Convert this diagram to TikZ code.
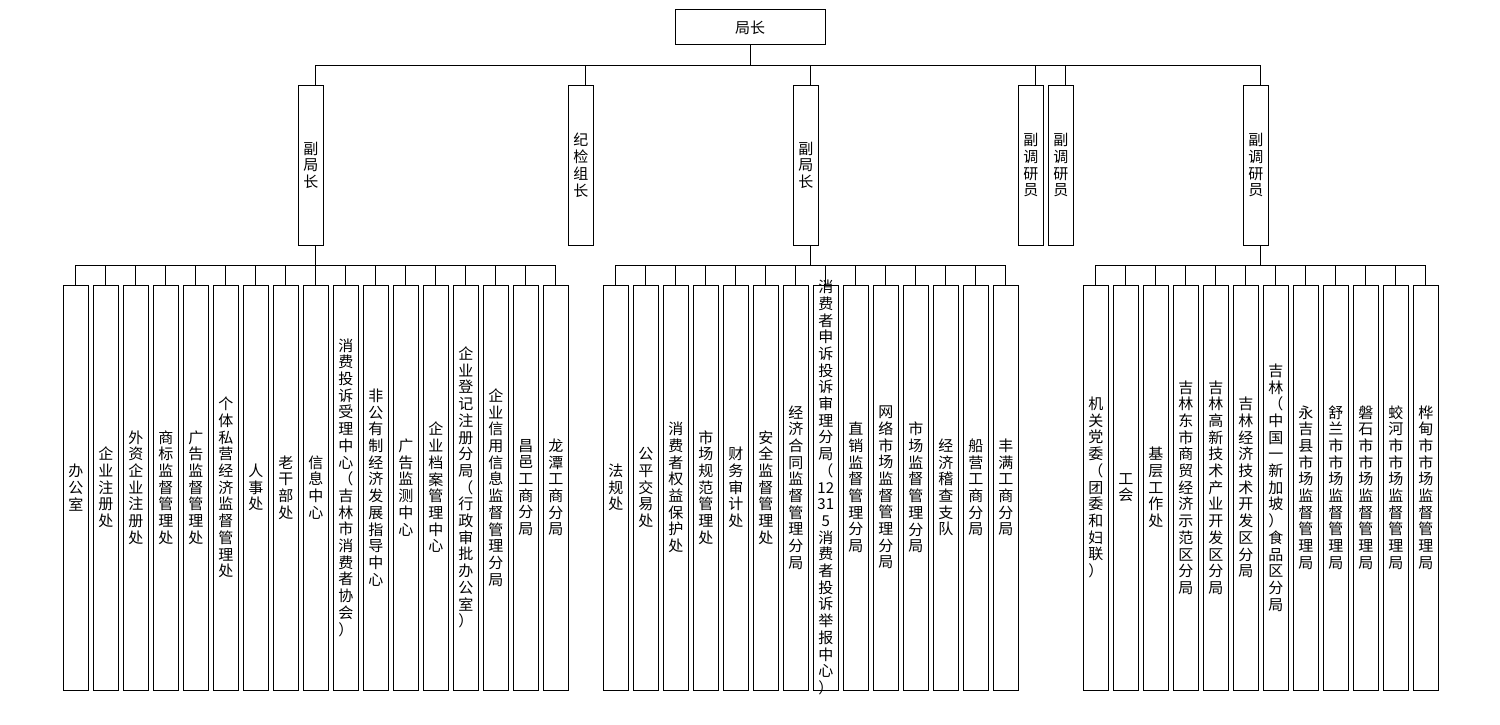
\documentclass[tikz,border=0pt]{standalone}
\usepackage{fontspec}
\newfontfamily\cjk{Noto Sans CJK SC}
\def\vtstop{\relax}
\def\vtstopmacro{\vtstop}
\def\vtextA#1{\def\vttmp{#1}\ifx\vttmp\vtstopmacro\else\hbox to 25pt{\hss#1\hss}\expandafter\vtextA\fi}
\newcommand\vtext[1]{\vbox{\baselineskip=16.7pt\lineskiplimit=-1000pt\lineskip=0pt\vtextA#1\vtstop}}
\tikzset{
  orgbox/.style={draw=black, line width=1pt, inner sep=0pt, fill=white},
  topbox/.style={orgbox, minimum width=150pt, minimum height=35pt, font=\cjk\fontsize{15}{16.7}\selectfont},
  midbox/.style={orgbox, minimum width=25pt, minimum height=160pt},
  lowbox/.style={orgbox, minimum width=25pt, minimum height=405pt},
  vt/.style={inner sep=0pt, font=\cjk\fontsize{15}{16.7}\selectfont, text=black},
  conn/.style={draw=black, line width=1pt}
}
\begin{document}
\begin{tikzpicture}[x=1pt, y=-1pt]
\fill[white] (0,0) rectangle (1500,725);
\useasboundingbox (0,0) rectangle (1500,725);

% top
\node[topbox] (top) at (750,27.5) {局长};
\coordinate (bus0) at (750,65.3);
\draw[conn] (top.south) -- (bus0);

% level 2
\node[midbox] (l2a) at (310.8,165.3) {};
\node[midbox] (l2b) at (580.8,165.3) {};
\node[midbox] (l2c) at (805.8,165.3) {};
\node[midbox] (l2d) at (1030.8,165.3) {};
\node[midbox] (l2e) at (1060.8,165.3) {};
\node[midbox] (l2f) at (1255.8,165.3) {};
\node[vt] (t2a) at (l2a) {\vtext{副局长}};
\node[vt] (t2b) at (l2b) {\vtext{纪检组长}};
\node[vt] (t2c) at (l2c) {\vtext{副局长}};
\node[vt] (t2d) at (l2d) {\vtext{副调研员}};
\node[vt] (t2e) at (l2e) {\vtext{副调研员}};
\node[vt] (t2f) at (l2f) {\vtext{副调研员}};
\foreach \n in {l2a,l2b,l2c,l2d,l2e,l2f} {
  \draw[conn] (bus0) -| ([xshift=4.5pt]\n.north);
}

% level 3 buses
\coordinate (bus1) at (315.3,265.3);
\coordinate (bus2) at (810.3,265.3);
\coordinate (bus3) at (1260.3,265.3);
\draw[conn] ([xshift=4.5pt]l2a.south) -- (bus1);
\draw[conn] ([xshift=4.5pt]l2c.south) -- (bus2);
\draw[conn] ([xshift=4.5pt]l2f.south) -- (bus3);

% group 1
\foreach \lbl [count=\i from 0] in {办公室,企业注册处,外资企业注册处,商标监督管理处,广告监督管理处,个体私营经济监督管理处,人事处,老干部处,信息中心,消费投诉受理中心（吉林市消费者协会）,非公有制经济发展指导中心,广告监测中心,企业档案管理中心,企业登记注册分局（行政审批办公室）,企业信用信息监督管理分局,昌邑工商分局,龙潭工商分局} {
  \node[lowbox] (a\i) at ({75.8+30*\i},487.5) {};
  \draw[conn] (bus1) -| (a\i.north);
  \node[vt] (ta\i) at (a\i) {\expandafter\vtext\expandafter{\lbl}};
}

% group 2
\foreach \lbl [count=\i from 0] in {法规处,公平交易处,消费者权益保护处,市场规范管理处,财务审计处,安全监督管理处,经济合同监督管理分局,{消费者申诉投诉审理分局（{12}{31}{5}消费者投诉举报中心）},直销监督管理分局,网络市场监督管理分局,市场监督管理分局,经济稽查支队,船营工商分局,丰满工商分局} {
  \node[lowbox] (b\i) at ({615.8+30*\i},487.5) {};
  \draw[conn] (bus2) -| (b\i.north);
  \node[vt] (tb\i) at (b\i) {\expandafter\vtext\expandafter{\lbl}};
}

% group 3
\foreach \lbl [count=\i from 0] in {机关党委（团委和妇联）,工会,基层工作处,吉林东市商贸经济示范区分局,吉林高新技术产业开发区分局,吉林经济技术开发区分局,吉林（中国一新加坡）食品区分局,永吉县市场监督管理局,舒兰市市场监督管理局,磐石市市场监督管理局,蛟河市市场监督管理局,桦甸市市场监督管理局} {
  \node[lowbox] (c\i) at ({1095.8+30*\i},487.5) {};
  \draw[conn] (bus3) -| (c\i.north);
  \node[vt] (tc\i) at (c\i) {\expandafter\vtext\expandafter{\lbl}};
}
\end{tikzpicture}
\end{document}
